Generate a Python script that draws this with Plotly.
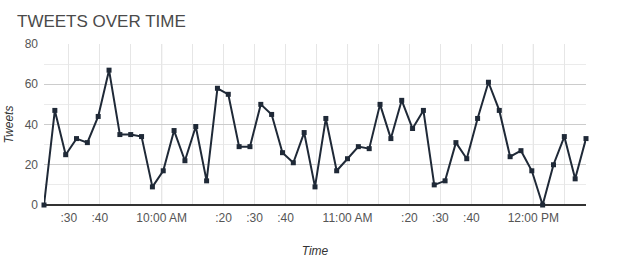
import plotly.graph_objects as go

DAY = "2024-01-01 "
times = ["09:22:00", "09:25:30", "09:29:00", "09:32:30", "09:36:00", "09:39:30", "09:43:00",
         "09:46:30", "09:50:00", "09:53:30", "09:57:00", "10:00:30", "10:04:00", "10:07:30",
         "10:11:00", "10:14:30", "10:18:00", "10:21:30", "10:25:00", "10:28:30", "10:32:00",
         "10:35:30", "10:39:00", "10:42:30", "10:46:00", "10:49:30", "10:53:00", "10:56:30",
         "11:00:00", "11:03:30", "11:07:00", "11:10:30", "11:14:00", "11:17:30", "11:21:00",
         "11:24:30", "11:28:00", "11:31:30", "11:35:00", "11:38:30", "11:42:00", "11:45:30",
         "11:49:00", "11:52:30", "11:56:00", "11:59:30", "12:03:00", "12:06:30", "12:10:00",
         "12:13:30", "12:17:00"]
tweets = [0, 47, 25, 33, 31, 44, 67, 35, 35, 34, 9, 17, 37, 22, 39, 12, 58,
          55, 29, 29, 50, 45, 26, 21, 36, 9, 43, 17, 23, 29, 28, 50, 33, 52,
          38, 47, 10, 12, 31, 23, 43, 61, 47, 24, 27, 17, 0, 20, 34, 13, 33]

tick_times = ["09:30", "09:40", "09:50", "10:00", "10:10", "10:20", "10:30", "10:40", "10:50",
              "11:00", "11:10", "11:20", "11:30", "11:40", "11:50", "12:00", "12:10"]
tick_labels = [":30", ":40", "", "10:00 AM", "", ":20", ":30", ":40", "",
               "11:00 AM", "", ":20", ":30", ":40", "", "12:00 PM", ""]
hour_times = ["10:00", "11:00", "12:00"]

x = [DAY + t for t in times]

FONT = "Liberation Sans, Arial, sans-serif"
LINE = "#1f2937"

fig = go.Figure()
fig.add_trace(go.Scatter(
    x=x, y=tweets, mode="lines+markers",
    line=dict(color=LINE, width=2),
    marker=dict(symbol="square", size=5, color=LINE),
    showlegend=False, cliponaxis=False,
))

for h in hour_times:
    fig.add_shape(type="line", xref="x", yref="paper", x0=DAY + h, x1=DAY + h, y0=0, y1=1,
                  line=dict(color="#cccccc", width=1), layer="between")

fig.update_layout(
    width=620, height=280,
    margin=dict(l=44, r=34, t=44, b=75),
    paper_bgcolor="white", plot_bgcolor="white",
    font=dict(family=FONT, color="#555555", size=12),
    title=dict(text="TWEETS OVER TIME", x=17 / 620, xanchor="left", y=1 - 21 / 280,
               yanchor="middle", font=dict(size=17, color="#4a4a4a")),
    xaxis=dict(
        type="date",
        range=[x[0], x[-1]],
        tickvals=[DAY + t for t in tick_times], ticktext=tick_labels,
        showgrid=True, gridcolor="#e6e6e6", gridwidth=1,
        showline=False, zeroline=False, ticks="",
        tickfont=dict(size=12, color="#555555"),
        ticklabelstandoff=4,
        title=dict(text="Time", font=dict(size=12, color="#333333", style="italic"), standoff=22),
        automargin=False,
    ),
    yaxis=dict(
        range=[0, 80], dtick=20, tick0=0,
        showgrid=True, gridcolor="#cccccc", gridwidth=1,
        minor=dict(dtick=10, showgrid=True, gridcolor="#ebebeb"),
        zeroline=True, zerolinecolor="#333333", zerolinewidth=1.5,
        showline=False, ticks="",
        tickfont=dict(size=12, color="#555555"),
        ticklabelstandoff=5,
        title=dict(text="Tweets", font=dict(size=12, color="#333333", style="italic"), standoff=8),
        automargin=False,
    ),
)

fig.write_html("out.html")
